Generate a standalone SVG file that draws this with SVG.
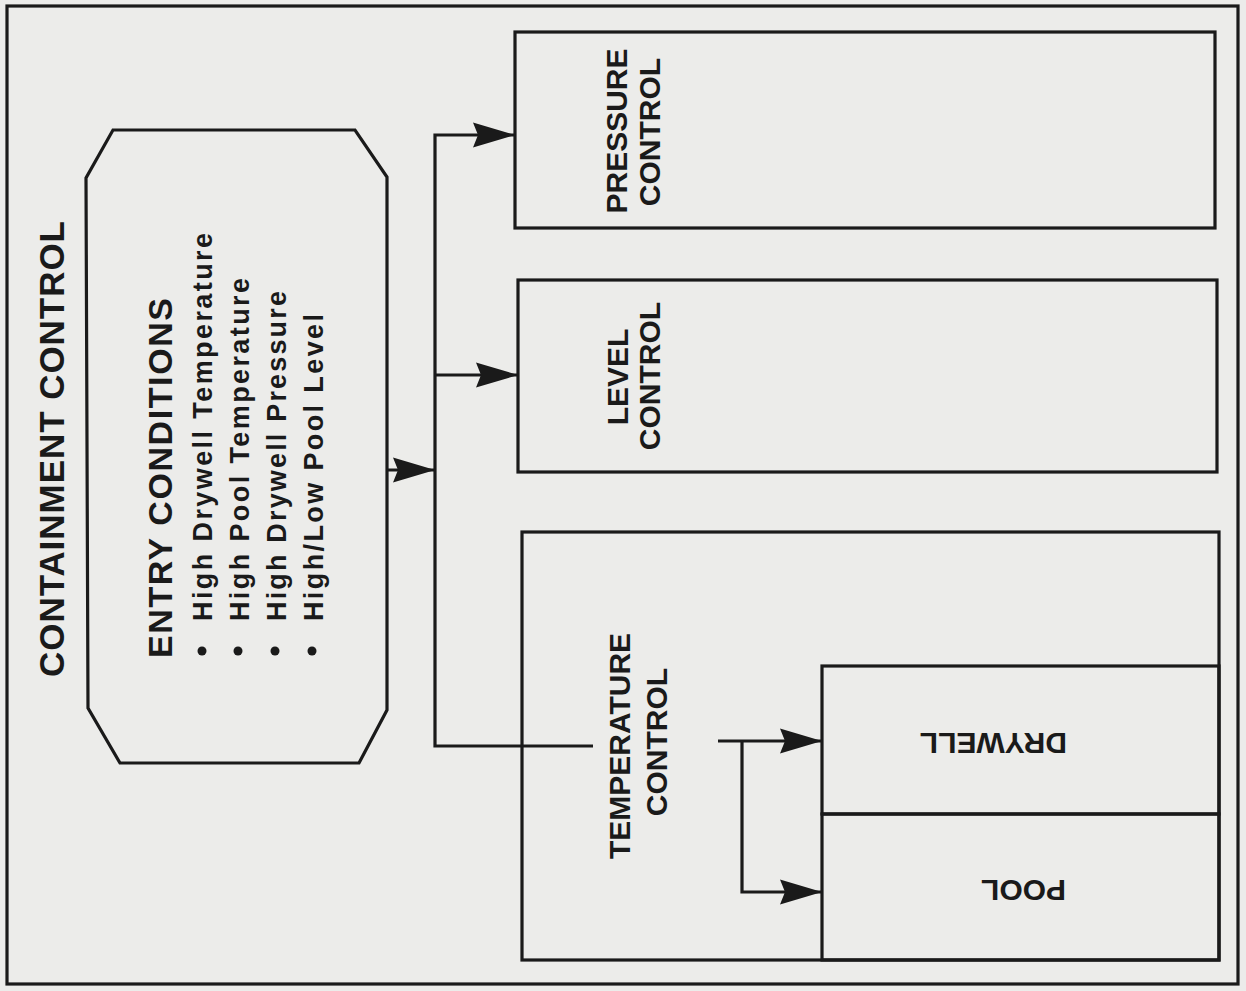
<svg xmlns="http://www.w3.org/2000/svg" width="1246" height="991" viewBox="0 0 1246 991">
<style>
.ln{fill:none;stroke:#1a1a1a;stroke-width:3.2}
.t{font-family:"Liberation Sans",Arial,Helvetica,sans-serif;font-weight:bold;fill:#1a1a1a}
.lbl{font-size:30px;text-anchor:middle}
.bul{font-size:27px}
</style>
<defs>
<marker id="ah" markerUnits="userSpaceOnUse" markerWidth="46" markerHeight="30" viewBox="-44 -15 46 30" refX="0" refY="0" orient="auto">
<path d="M0,0 L-42,-12.5 L-37,0 L-42,12.5 Z" fill="#1a1a1a"/>
</marker>
</defs>
<rect width="1246" height="991" fill="#ececea"/>
<g id="containment">
<rect class="ln" x="7" y="6" width="1231" height="978"/>
<text class="t" font-size="35" text-anchor="middle" textLength="456" lengthAdjust="spacing" transform="translate(64,449) rotate(-90)">CONTAINMENT CONTROL</text>
</g>
<g id="entry">
<polygon class="ln" points="113,130 355,130 387,177 387,710 359,763 120,763 88,708 86,178"/>
<text class="t" font-size="34" textLength="360" lengthAdjust="spacing" transform="translate(172,658) rotate(-90)">ENTRY CONDITIONS</text>
<g fill="#1a1a1a">
<circle cx="202" cy="651" r="4.5"/>
<circle cx="238" cy="651" r="4.5"/>
<circle cx="275" cy="651" r="4.5"/>
<circle cx="312" cy="651" r="4.5"/>
</g>
<text class="t bul" textLength="388" lengthAdjust="spacing" transform="translate(212,621) rotate(-90)">High Drywell Temperature</text>
<text class="t bul" textLength="343" lengthAdjust="spacing" transform="translate(249,621) rotate(-90)">High Pool Temperature</text>
<text class="t bul" textLength="330" lengthAdjust="spacing" transform="translate(286,621) rotate(-90)">High Drywell Pressure</text>
<text class="t bul" textLength="307" lengthAdjust="spacing" transform="translate(323,621) rotate(-90)">High/Low Pool Level</text>
</g>
<g id="pressure">
<rect class="ln" x="515" y="32" width="700" height="196"/>
<text class="t lbl" transform="translate(627,131) rotate(-90)">PRESSURE</text>
<text class="t lbl" transform="translate(660,132) rotate(-90)">CONTROL</text>
</g>
<g id="level">
<rect class="ln" x="518" y="280" width="699" height="192"/>
<text class="t lbl" transform="translate(628,377) rotate(-90)">LEVEL</text>
<text class="t lbl" transform="translate(660,376) rotate(-90)">CONTROL</text>
</g>
<g id="temperature">
<rect class="ln" x="522" y="532" width="697" height="428"/>
<text class="t lbl" transform="translate(630,746) rotate(-90)">TEMPERATURE</text>
<text class="t lbl" transform="translate(667,742) rotate(-90)">CONTROL</text>
</g>
<g id="drywell">
<rect class="ln" x="822" y="666" width="397" height="148"/>
<text class="t" font-size="30" transform="translate(1067,733) rotate(180)">DRYWELL</text>
</g>
<g id="pool">
<rect class="ln" x="822" y="814" width="397" height="146"/>
<text class="t" font-size="30" transform="translate(1066,880) rotate(180)">POOL</text>
</g>
<g id="connectors">
<line class="ln" x1="387" y1="470" x2="435" y2="470" marker-end="url(#ah)"/>
<polyline class="ln" points="593,746 435,746 435,135 515,135" marker-end="url(#ah)"/>
<line class="ln" x1="435" y1="375" x2="518" y2="375" marker-end="url(#ah)"/>
<line class="ln" x1="718" y1="741" x2="822" y2="741" marker-end="url(#ah)"/>
<polyline class="ln" points="742,741 742,892 822,892" marker-end="url(#ah)"/>
</g>
</svg>
